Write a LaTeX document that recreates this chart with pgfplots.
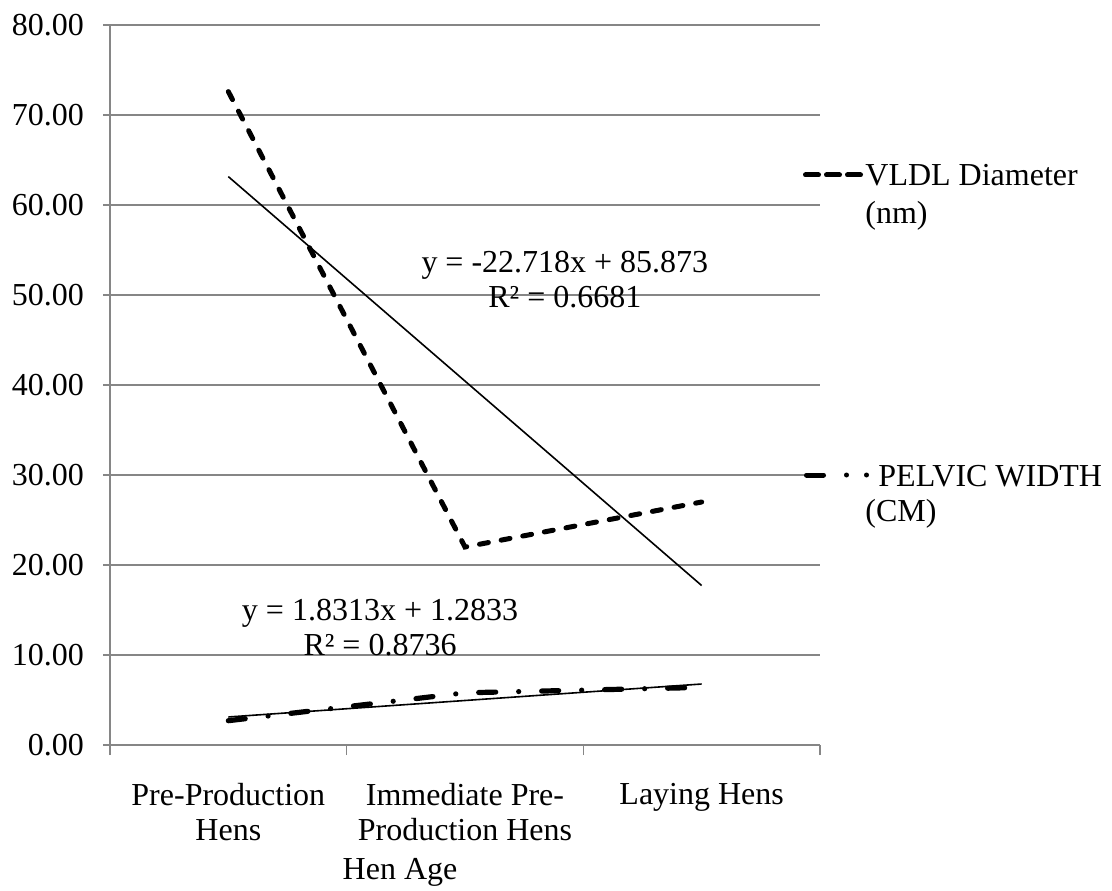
\documentclass[border=0pt]{standalone}
\usepackage{fontspec}
\setmainfont{Liberation Serif}
\usepackage{pgfplots}
\pgfplotsset{compat=1.18}
\definecolor{gridgray}{RGB}{134,134,134}
\begin{document}
\begin{tikzpicture}[font=\fontsize{16}{17.5}\selectfont]
\path[use as bounding box] (0pt,0pt) rectangle (556pt,445pt);
\begin{axis}[
  at={(55pt,72.5pt)}, anchor=south west,
  scale only axis, width=355pt, height=360pt,
  xmin=0.5, xmax=3.5, ymin=0, ymax=80,
  axis x line*=bottom, axis y line*=left,
  axis line style={gridgray, line width=0.75pt, -},
  ytick={0,10,...,80},
  ymajorgrids, grid style={gridgray, line width=0.75pt},
  tick align=outside,
  major tick length=3.5pt,
  y tick style={gridgray, line width=0.75pt},
  /pgf/number format/fixed,
  /pgf/number format/fixed zerofill,
  /pgf/number format/precision=2,
  /pgf/number format/assume math mode=true,
  yticklabel style={anchor=east, xshift=-6pt},
  xtick={1,2,3},
  xticklabels={{Pre-Production\\Hens},{Immediate Pre-\\Production Hens},{Laying Hens}},
  xticklabel style={align=center, anchor=north, yshift=-12pt},
  x tick style={draw=none},
  extra x ticks={0.5,1.5,2.5,3.5},
  extra x tick labels={},
  extra x tick style={x tick style={draw=gridgray, line width=0.75pt}, major tick length=5pt, grid=none},
  clip=false,
]
\addplot[black, line width=2.5pt, line cap=round, dash pattern=on 4.5pt off 6.5pt]
  coordinates {(1,72.6) (2,22.0) (3,27.0)};
\addplot[black, line width=2.6pt, line cap=round, dash pattern=on 8.5pt off 11.5pt on 0pt off 11.5pt]
  coordinates {(1,2.7) (2,5.8) (3,6.4)};
\addplot[black, line width=0.8pt] coordinates {(1,63.155) (3,17.719)};
\addplot[black, line width=0.8pt] coordinates {(1,3.1146) (3,6.7772)};
\node[align=center] at (axis cs:2.422,51.7) {y = -22.718x + 85.873\\R² = 0.6681};
\node[align=center] at (axis cs:1.641,13.1) {y = 1.8313x + 1.2833\\R² = 0.8736};
\end{axis}
% legend
\draw[black, line width=2.5pt, line cap=round, dash pattern=on 6.5pt off 4pt] (402.75pt,357.5pt) -- (430.25pt,357.5pt);
\node[anchor=base west, inner sep=0pt] at (432.5pt,352pt) {VLDL Diameter};
\node[anchor=base west, inner sep=0pt] at (432.5pt,333pt) {(nm)};
\draw[black, line width=2.5pt, line cap=round, dash pattern=on 8.5pt off 11.5pt on 0pt off 10pt on 0pt off 20pt] (403.25pt,207.5pt) -- (434pt,207.5pt);
\node[anchor=base west, inner sep=0pt] at (439pt,202pt) {PELVIC WIDTH};
\node[anchor=base west, inner sep=0pt] at (432.5pt,184.5pt) {(CM)};
\node[anchor=base] at (200pt,5.5pt) {Hen Age};
\end{tikzpicture}
\end{document}
